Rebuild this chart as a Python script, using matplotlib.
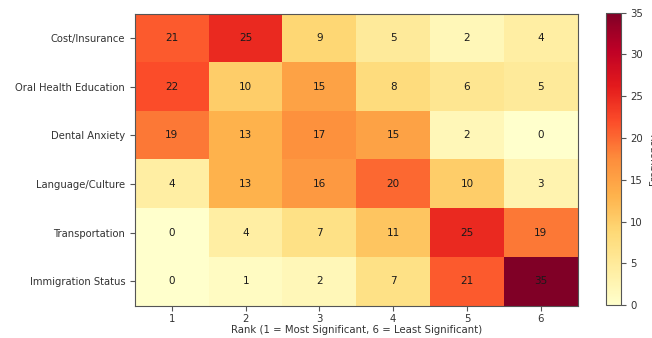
import numpy as np
import matplotlib
matplotlib.use("Agg")
import matplotlib.pyplot as plt

factors = ["Cost/Insurance", "Oral Health Education", "Dental Anxiety",
           "Language/Culture", "Transportation", "Immigration Status"]
ranks = [1, 2, 3, 4, 5, 6]
counts = np.array([
    [21, 25, 9, 5, 2, 4],
    [22, 10, 15, 8, 6, 5],
    [19, 13, 17, 15, 2, 0],
    [4, 13, 16, 20, 10, 3],
    [0, 4, 7, 11, 25, 19],
    [0, 1, 2, 7, 21, 35],
])

fig = plt.figure(figsize=(6.52, 3.38), dpi=100)
ax = fig.add_axes([0.207, 0.096, 0.679, 0.864])
cax = fig.add_axes([0.9294, 0.097, 0.0225, 0.866])

im = ax.imshow(counts, cmap="YlOrRd", vmin=0, vmax=35, aspect="auto")
for i in range(len(factors)):
    for j in range(len(ranks)):
        ax.text(j, i, str(counts[i, j]), ha="center", va="center",
                color="#1a1a1a", fontsize=7.5)

ax.set_xticks(range(len(ranks)))
ax.set_xticklabels([str(r) for r in ranks], fontsize=7.3, color="#333333")
ax.set_yticks(range(len(factors)))
ax.set_yticklabels(factors, fontsize=7.2, color="#333333")
ax.tick_params(axis="x", pad=2.5, color="#555555")
ax.tick_params(axis="y", color="#555555")
ax.set_xlabel("Rank (1 = Most Significant, 6 = Least Significant)", fontsize=7.3,
              labelpad=1, color="#333333")
for s in ax.spines.values():
    s.set_color("#555555")

cb = fig.colorbar(im, cax=cax)
cb.set_label("Frequency", fontsize=7.3, color="#333333")
cb.ax.tick_params(labelsize=7.3, labelcolor="#333333", color="#555555")
cb.outline.set_edgecolor("#555555")

fig.savefig("out.png", dpi=100)
